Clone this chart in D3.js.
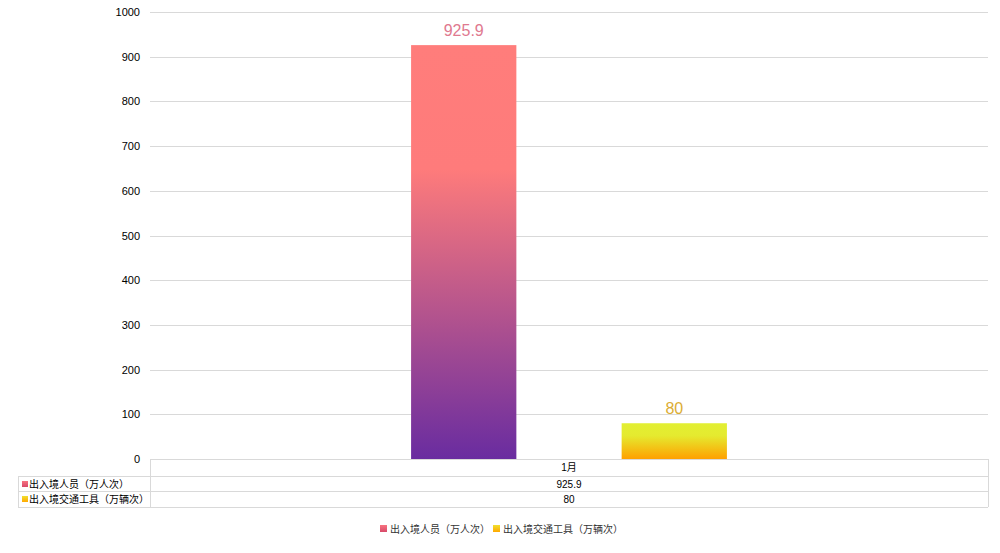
<!DOCTYPE html>
<html>
<head>
<meta charset="utf-8">
<script src="https://cdn.jsdelivr.net/npm/d3@7"></script>
<style>
  html, body { margin: 0; padding: 0; background: #fff; }
  svg { display: block; font-family: "Liberation Sans", Arial, "Noto Sans CJK SC", sans-serif; }
</style>
</head>
<body>
<svg id="chart" width="1000" height="553"></svg>
<script>
// Monthly border crossings
const categories = ["1月"];
const seriesNames = ["出入境人员（万人次）", "出入境交通工具（万辆次）"];
const seriesValues = [[925.9], [80]];
const yTicks = [0, 100, 200, 300, 400, 500, 600, 700, 800, 900, 1000];

const svg = d3.select("#chart");
const m = { left: 150, right: 988, top: 12, bottom: 459 };

const y = d3.scaleLinear().domain([0, 1000]).range([m.bottom, m.top]);
const x0 = d3.scaleBand().domain(categories).range([m.left, m.right]).paddingInner(0).paddingOuter(0);
const x1 = d3.scaleBand().domain(seriesNames).range([0, x0.bandwidth()]).paddingInner(1 / 2).paddingOuter(1.24);

// gradients
const defs = svg.append("defs");
const grads = [
  { id: "g0", stops: [[0, "#ff7d7b"], [0.3, "#fe7b7b"], [1, "#692ca0"]] },
  { id: "g1", stops: [[0, "#e2ef33"], [0.35, "#e5ea2f"], [1, "#ffa000"]] }
];
grads.forEach(g => {
  const lg = defs.append("linearGradient").attr("id", g.id)
    .attr("x1", 0).attr("y1", 0).attr("x2", 0).attr("y2", 1);
  g.stops.forEach(s => lg.append("stop").attr("offset", s[0]).attr("stop-color", s[1]));
});
const legendGrads = [["#f7737f", "#d84a6a"], ["#f0e030", "#ffa800"]];
legendGrads.forEach((c, i) => {
  const lg = defs.append("linearGradient").attr("id", "lg" + i)
    .attr("x1", 0).attr("y1", 0).attr("x2", 0).attr("y2", 1);
  lg.append("stop").attr("offset", 0).attr("stop-color", c[0]);
  lg.append("stop").attr("offset", 1).attr("stop-color", c[1]);
});

// grid lines
svg.append("g").selectAll("line").data(yTicks).join("line")
  .attr("x1", m.left).attr("x2", m.right)
  .attr("y1", d => Math.round(y(d)) + 0.5).attr("y2", d => Math.round(y(d)) + 0.5)
  .attr("stroke", "#d9d9d9").attr("stroke-width", 1);

// y axis labels
const yAxis = d3.axisLeft(y).tickValues(yTicks).tickFormat(d3.format("d")).tickSize(0).tickPadding(8);
const ya = svg.append("g").attr("transform", `translate(${m.left - 2},0)`).call(yAxis);
ya.select(".domain").remove();
ya.selectAll("text").attr("font-size", 11).attr("fill", "#000")
  .attr("font-family", "'Liberation Sans', Arial, sans-serif");

// bars
const labelColors = ["#e0798f", "#dcad33"];
categories.forEach((cat, ci) => {
  seriesNames.forEach((s, si) => {
    const v = seriesValues[si][ci];
    const bx = x0(cat) + x1(s);
    svg.append("rect")
      .attr("x", bx).attr("y", y(v))
      .attr("width", x1.bandwidth()).attr("height", y(0) - y(v))
      .attr("fill", `url(#g${si})`);
    svg.append("text")
      .attr("x", bx + x1.bandwidth() / 2).attr("y", y(v) - 9)
      .attr("text-anchor", "middle").attr("font-size", 16)
      .attr("fill", labelColors[si]).text(v);
  });
});

// data table
const rowH = [17, 15, 16];
const tTop = m.bottom;
const tableLeft = 18;
const rowsY = [tTop];
rowH.forEach(h => rowsY.push(rowsY[rowsY.length - 1] + h));
const tg = svg.append("g").attr("stroke", "#d9d9d9").attr("stroke-width", 1).attr("fill", "none");
// horizontal lines
rowsY.forEach((ry, i) => {
  tg.append("line").attr("x1", i === 0 ? m.left : tableLeft).attr("x2", m.right)
    .attr("y1", ry + 0.5).attr("y2", ry + 0.5);
});
// vertical lines
tg.append("line").attr("x1", m.left + 0.5).attr("x2", m.left + 0.5).attr("y1", rowsY[0]).attr("y2", rowsY[3]);
tg.append("line").attr("x1", m.right + 0.5).attr("x2", m.right + 0.5).attr("y1", rowsY[0]).attr("y2", rowsY[3]);
tg.append("line").attr("x1", tableLeft + 0.5).attr("x2", tableLeft + 0.5).attr("y1", rowsY[1]).attr("y2", rowsY[3]);

// header category text
categories.forEach(cat => {
  svg.append("text").attr("x", x0(cat) + x0.bandwidth() / 2).attr("y", rowsY[0] + 12)
    .attr("text-anchor", "middle").attr("font-size", 10).attr("fill", "#000").text(cat);
});
seriesNames.forEach((s, si) => {
  const ry = rowsY[si + 1];
  svg.append("rect").attr("x", 22).attr("y", ry + 5).attr("width", 6).attr("height", 6)
    .attr("fill", `url(#lg${si})`);
  svg.append("text").attr("x", 29).attr("y", ry + 12).attr("font-size", 10).attr("fill", "#000").text(s);
  categories.forEach((cat, ci) => {
    svg.append("text").attr("x", x0(cat) + x0.bandwidth() / 2).attr("y", ry + 12)
      .attr("text-anchor", "middle").attr("font-size", 10).attr("fill", "#000")
      .text(seriesValues[si][ci]);
  });
});

// legend
const lgG = svg.append("g");
let lx = 380;
seriesNames.forEach((s, si) => {
  lgG.append("rect").attr("x", lx).attr("y", 525).attr("width", 7).attr("height", 7)
    .attr("fill", `url(#lg${si})`);
  const t = lgG.append("text").attr("x", lx + 10).attr("y", 533).attr("font-size", 10)
    .attr("fill", "#333").text(s);
  lx += 10 + t.node().getComputedTextLength() + 3;
});
</script>
</body>
</html>
